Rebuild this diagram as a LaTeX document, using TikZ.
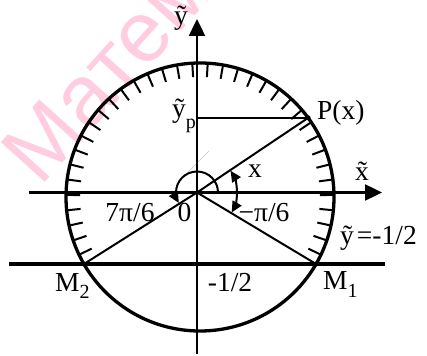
\documentclass[tikz,border=0pt]{standalone}
\usepackage{fontspec}
\setmainfont{Liberation Serif}
\newfontfamily\wmfont{Liberation Sans}
\usetikzlibrary{arrows.meta,calc}
\definecolor{wmpink}{RGB}{255,204,224}
\begin{document}
\begin{tikzpicture}[x=1pt,y=1pt,
  lbl/.style={inner sep=0pt,anchor=base,font=\fontsize{27.5}{30}\selectfont},
  axisarrow/.style={line width=2.4pt,-{Triangle[length=17pt,width=16pt]}},
  rayline/.style={line width=2pt},
  tickline/.style={line width=2pt},
  anglearrow/.style={line width=2pt,-{Triangle[length=11pt,width=10pt]}},
  dotmark/.style={circle,fill=black,inner sep=0pt,minimum size=5pt},
  wmtext/.style={inner sep=0pt,anchor=base west,rotate=48,text=wmpink,font=\wmfont\fontsize{86}{86}\selectfont}
]
\useasboundingbox (0,0) rectangle (427,355);
\begin{scope}
  \clip (0,0) rectangle (427,355);
  \node[wmtext] (wm) at (40,167) {Матем};
\end{scope}
\coordinate (O) at (197,162.5);
\coordinate (C) at (200,158);
\coordinate (P) at ($(C)+(36.2:134)$);
\coordinate (M1) at ($(C)+(-30:134)$);
\coordinate (M2) at ($(C)+(210:134)$);
\coordinate (xs) at (29,162.5);
\coordinate (xe) at (382,162.5);
\coordinate (ys) at (197,1);
\coordinate (ye) at (197,336);
\coordinate (ls) at (9,91);
\coordinate (le) at (385,91);
\coordinate (gs) at (188,183);
\coordinate (ge) at (209,204);
% faint line
\draw[gray!45,line width=0.5pt] (gs) -- (ge);
% circle and ticks
\draw[line width=3.3pt] (C) circle[radius=134];
\foreach \k in {0,...,35}{
  \draw[tickline] ($(C)+({-25.5+6.6*\k}:133)$) -- ($(C)+({-25.5+6.6*\k}:120)$);
}
% line y = -1/2
\draw[line width=4pt] (ls) -- (le);
% axes
\draw[axisarrow] (xs) -- (xe);
\draw[axisarrow] (ys) -- (ye);
% rays
\draw[rayline] (O) -- (P);
\draw[rayline] (O) -- (M1);
\draw[rayline] (O) -- (M2);
\draw[rayline] (O |- P) -- (P);
\node[dotmark] (dP) at (P) {};
\node[dotmark] (dM1) at (M1) {};
\node[dotmark] (dM2) at (M2) {};
% angle arcs
\draw[anglearrow] ($(O)+(0:21)$) arc[start angle=0,end angle=210,radius=21];
\draw[anglearrow] ($(O)+(0:40)$) arc[start angle=0,end angle=33,radius=40];
\draw[anglearrow] ($(O)+(0:40)$) arc[start angle=0,end angle=-30,radius=40];
% labels
\node[lbl] (ly) at (181,330) {ỹ};
\node[lbl,anchor=base west] (lyp) at (172,237) {ỹ\raisebox{-11pt}{\fontsize{20}{20}\selectfont p}};
\node[lbl,anchor=base west] (lP) at (317,235) {P(x)};
\node[lbl] (lx) at (255,177) {x};
\node[lbl] (lxt) at (362,174) {x̃};
\node[lbl] (l0) at (184.5,133) {0};
\node[lbl] (l7) at (130,133) {7π/6};
\node[lbl] (lm) at (264,133) {−π/6};
\node[lbl,anchor=base west] (lyeq) at (340,110) {ỹ\kern3pt=-1/2};
\node[lbl] (lhalf) at (230,63) {-1/2};
\node[lbl,anchor=base west] (lM1) at (323,65) {M\raisebox{-8pt}{\fontsize{20}{20}\selectfont 1}};
\node[lbl,anchor=base west] (lM2) at (55,63) {M\raisebox{-7pt}{\fontsize{20}{20}\selectfont 2}};
\end{tikzpicture}
\end{document}
